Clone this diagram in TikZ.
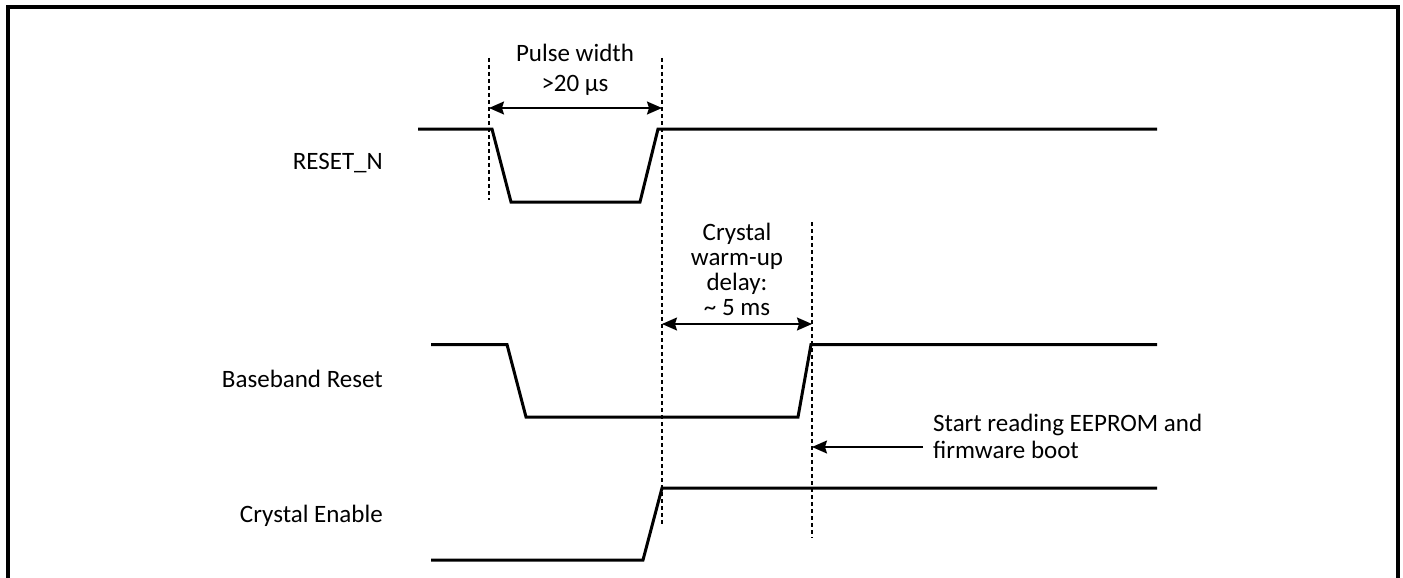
\documentclass[tikz,border=0pt]{standalone}
\usepackage{fontspec}
\setmainfont{Carlito}
\usetikzlibrary{arrows.meta}
\begin{document}
\begin{tikzpicture}[x=1pt,y=-1pt,
  frame/.style={line width=4pt},
  sig/.style={line width=3pt, line join=miter},
  guide/.style={line width=1.2pt, dash pattern=on 4pt off 3pt},
  tip/.tip={Stealth[length=15pt,width=13pt,inset=2pt]},
  dim/.style={line width=1.5pt, tip-tip},
  ptr/.style={line width=1.5pt, -tip},
  lbl/.style={font=\fontsize{25}{25}\selectfont, inner sep=0pt},
]
\useasboundingbox (0,0) rectangle (1403,578);
\draw[frame] (8,578) -- (8,7) -- (1398,7) -- (1398,578);

% signal labels
\node[lbl, anchor=base east] (lrst) at (383,169.5) {RESET\_N};
\node[lbl, anchor=base east] (lbb) at (383,387.5) {Baseband Reset};
\node[lbl, anchor=base east] (lxe) at (383,522.5) {Crystal Enable};

% waveforms
\draw[sig] (418,129) -- (492,129) -- (511,202) -- (640,202) -- (658,129) -- (1157,129);
\draw[sig] (431,344.5) -- (507,344.5) -- (526,417) -- (798,417) -- (811,344.5) -- (1157,344.5);
\draw[sig] (431,560) -- (643,560) -- (662,488) -- (1157,488);

% guide lines
\coordinate (g1t) at (489,58);  \coordinate (g1b) at (489,200);
\coordinate (g2t) at (662,58);  \coordinate (g2b) at (662,525);
\coordinate (g3t) at (812,222); \coordinate (g3b) at (812,538);
\draw[guide] (g1t) -- (g1b);
\draw[guide] (g2t) -- (g2b);
\draw[guide] (g3t) -- (g3b);

% dimensions
\coordinate (pwL) at (489,108); \coordinate (pwR) at (662,108);
\draw[dim] (pwL) -- (pwR);
\node[lbl, align=center, anchor=base, font=\fontsize{25}{30}\selectfont] (pw) at (575,91.7) {Pulse width\\>20 µs};

\coordinate (cwL) at (662,324); \coordinate (cwR) at (812,324);
\draw[dim] (cwL) -- (cwR);
\node[lbl, align=center, anchor=base] (cw) at (737,315) {Crystal\\warm-up\\delay:\\\textasciitilde{} 5 ms};

\coordinate (srS) at (923,447); \coordinate (srE) at (812,447);
\draw[ptr] (srS) -- (srE);
\node[lbl, align=left, anchor=base west, font=\fontsize{25}{27}\selectfont] (sr) at (933,458) {Start reading EEPROM and\\firmware boot};
\end{tikzpicture}
\end{document}
